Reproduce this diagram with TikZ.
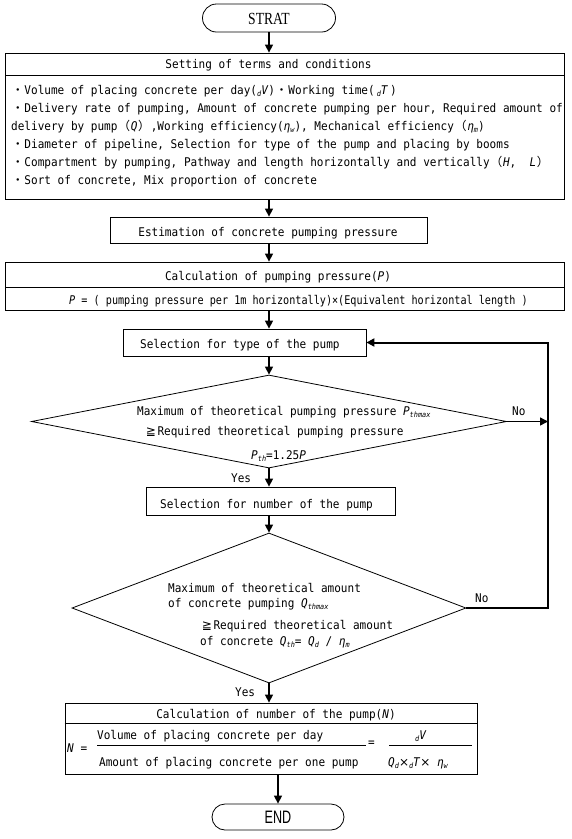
\documentclass[tikz,border=0pt]{standalone}
\usepackage{fontspec}
\usepackage{graphicx}
\setmainfont{DejaVu Sans Mono}[FakeStretch=0.92]
\newfontfamily\cjk{Noto Sans CJK JP}
\newfontfamily\symf{DejaVu Sans}
\newfontfamily\serf{Liberation Serif}[FakeStretch=0.8]
\newfontfamily\endf{Liberation Sans}[FakeStretch=0.7]
\usetikzlibrary{shapes.geometric,shapes.misc,arrows.meta}
\newcommand\fwc[1]{\makebox[13.3pt]{\cjk #1}}
\newcommand\gq{\makebox[13.3pt]{\symf ≧}}
\newcommand\sbx[1]{\raisebox{-0.45ex}{\fontsize{7.5}{8}\selectfont\itshape #1}}
\begin{document}
\begin{tikzpicture}[x=1pt,y=-1pt,
  font=\fontsize{12}{14}\selectfont,
  box/.style={draw, line width=0.8pt, rectangle, inner sep=0pt},
  stad/.style={draw, line width=0.8pt, rounded rectangle, inner sep=0pt},
  dia/.style={draw, line width=0.8pt, diamond, inner sep=0pt},
  arr/.style={line width=1.4pt, -{Triangle[length=8pt,width=8pt]}},
  fbl/.style={line width=2pt, -{Triangle[length=8pt,width=8pt]}},
  sep/.style={line width=0.8pt},
  tw/.style={inner sep=0pt, anchor=base west},
  tc/.style={inner sep=0pt, anchor=base}]
\useasboundingbox (0,0) rectangle (571,839);
\coordinate (ax) at (269,0);
\coordinate (fb) at (548,0);
% start
\node[stad, minimum width=133pt, minimum height=28pt] (st) at (269,18) {};
\node[tc] (stt) at (269,24) {\fontsize{17}{17}\selectfont\serf STRAT};
% setting box
\node[box, minimum width=558.5pt, minimum height=146pt] (set) at (284.75,126) {};
\coordinate (s1) at (0,75);
\draw[sep] (set.west |- s1) -- (set.east |- s1);
\node[tc] (sett) at (268.5,68) {Setting of terms and conditions};
\node[tw] (l1) at (11,94) {\fwc{・}Volume of placing concrete per day(\sbx{d}\textit{V})\fwc{・}Working time(\,\sbx{d}\textit{T}\,)};
\node[tw] (l2) at (11,112) {\fwc{・}Delivery rate of pumping, Amount of concrete pumping per hour, Required amount of};
\node[tw] (l3) at (11,130) {delivery by pump\fwc{（}\textit{Q}\fwc{）},Working efficiency(\textit{η}\sbx{w}), Mechanical efficiency\fwc{（}\textit{η}\sbx{m})};
\node[tw] (l4) at (11,148) {\fwc{・}Diameter of pipeline, Selection for type of the pump and placing by booms};
\node[tw] (l5) at (11,166) {\fwc{・}Compartment by pumping, Pathway and length horizontally and vertically\fwc{（}\textit{H},\ \ \textit{L}\fwc{）}};
\node[tw] (l6) at (11,184) {\fwc{・}Sort of concrete, Mix proportion of concrete};
% estimation
\node[box, minimum width=317pt, minimum height=26pt] (est) at (268.5,230) {};
\node[tc] (estt) at (268,236) {Estimation of concrete pumping pressure};
% calc pressure
\node[box, minimum width=558.5pt, minimum height=48pt] (calcp) at (284.75,286) {};
\coordinate (s2) at (0,287);
\draw[sep] (calcp.west |- s2) -- (calcp.east |- s2);
\node[tc] (calcpt) at (278,280) {Calculation of pumping pressure(\textit{P})};
\node[tw] (calcpf) at (69,304) {\scalebox{0.92}[1]{\textit{P} = ( pumping pressure per 1m horizontally)×(Equivalent horizontal length )}};
% selection type
\node[box, minimum width=243pt, minimum height=27pt] (seltype) at (244.5,342.5) {};
\node[tw] (seltypet) at (140,348) {Selection for type of the pump};
% diamond 1
\node[dia, minimum width=475pt, minimum height=93pt] (d1) at (269,421.5) {};
\node[tw] (d1a) at (137,415) {Maximum of theoretical pumping pressure \textit{P}\sbx{thmax}};
\node[tw] (d1b) at (144,435) {\gq Required theoretical pumping pressure};
\node[tw] (d1c) at (251,459) {\textit{P}\sbx{th}=1.25\textit{P}};
\node[tw] (no1) at (512,415) {No};
\node[tw] (yes1) at (231,482) {Yes};
% selection number
\node[box, minimum width=249pt, minimum height=28pt] (selnum) at (270.5,501) {};
\node[tw] (selnumt) at (160,508) {Selection for number of the pump};
% diamond 2
\node[dia, minimum width=394pt, minimum height=150pt] (d2) at (269,608) {};
\node[tw] (d2a) at (168,592) {Maximum of theoretical amount};
\node[tw] (d2b) at (168,607) {of concrete pumping \textit{Q}\sbx{thmax}};
\node[tw] (d2c) at (200,629) {\gq Required theoretical amount};
\node[tw] (d2d) at (200,645) {of concrete \textit{Q}\sbx{th}= \textit{Q}\sbx{d} / \textit{η}\sbx{m}};
\node[tw] (no2) at (475,602) {No};
\node[tw] (yes2) at (235,696) {Yes};
% calc number
\node[box, minimum width=412pt, minimum height=71pt] (calcn) at (271,738.5) {};
\coordinate (s3) at (0,723);
\draw[sep] (calcn.west |- s3) -- (calcn.east |- s3);
\node[tc] (calcnt) at (276,718.5) {Calculation of number of the pump(\textit{N})};
\node[tw] (neq) at (67,752) {\textit{N} =};
\node[tw] (num1) at (97,739) {Volume of placing concrete per day};
\node[tw] (den1) at (99,766) {Amount of placing concrete per one pump};
\draw[sep] (97,745) -- (366,745);
\node[tw] (eq2) at (368,746) {=};
\node[tw] (num2) at (415,739) {\sbx{d}\textit{V}};
\node[tw] (den2) at (388,766) {\textit{Q}\sbx{d}{\symf ×}\sbx{d}\textit{T}{\symf ×} \textit{η}\sbx{w}};
\draw[sep] (389,745) -- (472,745);
% end
\node[stad, minimum width=132pt, minimum height=26pt] (en) at (278,817) {};
\node[tc] (ent) at (278,823.5) {\fontsize{18}{18}\selectfont\endf END};
% connectors
\draw[arr] (st.south) -- (st.south |- set.north);
\draw[arr] (set.south -| ax) -- (est.north -| ax);
\draw[arr] (est.south -| ax) -- (calcp.north -| ax);
\draw[arr] (calcp.south -| ax) -- (seltype.north -| ax);
\draw[arr] (seltype.south -| ax) -- (d1.north);
\draw[arr] (d1.south) -- (selnum.north -| d1.south);
\draw[arr] (selnum.south -| ax) -- (d2.north);
\draw[arr] (d2.south) -- (calcn.north -| d2.south);
\draw[arr] (calcn.south -| en) -- (en.north);
\draw[arr] (d1.east) -- (d1.east -| fb);
\draw[fbl] (d2.east) -- (d2.east -| fb) -- (fb |- seltype.east) -- (seltype.east);
\end{tikzpicture}
\end{document}
